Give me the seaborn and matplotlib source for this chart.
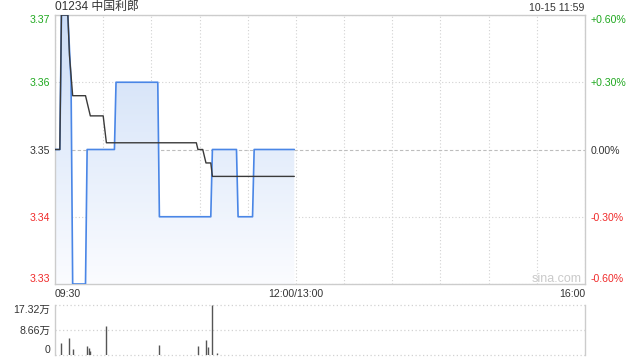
import numpy as np
import pandas as pd
import matplotlib
matplotlib.use("Agg")
import matplotlib.pyplot as plt
import seaborn as sns
from matplotlib.colors import LinearSegmentedColormap

# ---------------- data ----------------
title = "01234 中国利郎"
stamp = "10-15 11:59"

price_min = [0, 3, 4, 8, 10, 11, 19, 20, 37, 38, 64, 65, 97, 98, 113, 114, 123, 124, 149]
price_val = [3.35, 3.35, 3.37, 3.37, 3.36, 3.33, 3.33, 3.35, 3.35, 3.36, 3.36, 3.34,
             3.34, 3.35, 3.35, 3.34, 3.34, 3.35, 3.35]

avg_min = [0, 3, 4, 8, 9, 11, 19, 22, 30, 32, 88, 89, 92, 94, 97, 98, 149]
avg_val = [3.35, 3.35, 3.37, 3.37, 3.364, 3.358, 3.358, 3.355, 3.355, 3.351, 3.351,
           3.350, 3.350, 3.348, 3.348, 3.346, 3.346]

vol_min = [4, 9, 11, 20, 21, 22, 32, 65, 89, 94, 95, 98, 101]
vol_wan = [4.2, 5.9, 2.1, 3.2, 2.4, 1.5, 10.0, 3.5, 3.1, 5.2, 2.8, 17.32, 0.7]

price_ticks = [3.33, 3.34, 3.35, 3.36, 3.37]
price_labels = ["3.33", "3.34", "3.35", "3.36", "3.37"]
pct_labels = ["-0.60%", "-0.30%", "0.00%", "+0.30%", "+0.60%"]
vol_ticks = [0, 8.66, 17.32]
vol_labels = ["0", "8.66万", "17.32万"]
x_ticks = [0, 150, 330]
x_labels = ["09:30", "12:00/13:00", "16:00"]
grid_x = list(range(30, 330, 30))

price_df = pd.DataFrame({"minute": price_min, "price": price_val})
avg_df = pd.DataFrame({"minute": avg_min, "avg": avg_val})

# ---------------- style ----------------
sns.set_style("white")
plt.rcParams["font.family"] = ["Liberation Sans", "Noto Sans CJK SC", "DejaVu Sans"]
plt.rcParams["font.size"] = 7.6

GREEN = "#1fa81f"
RED = "#f02a2a"
DARK = "#333333"
FRAME = "#cccccc"
GRID = "#d2d2d2"
label_colors = [RED, RED, DARK, GREEN, GREEN]

fig = plt.figure(figsize=(6.4, 3.6), dpi=100)
ax = fig.add_axes([55 / 640, 1 - 284 / 360, 530 / 640, 269 / 360])
axv = fig.add_axes([55 / 640, 1 - 355 / 360, 530 / 640, 50 / 360])

# ---------------- main price pane ----------------
ax.set_xlim(0, 330)
ax.set_ylim(3.33, 3.37)

# gradient fill under the price line
poly = ax.fill_between(price_df["minute"], price_df["price"], 3.33, color="none", lw=0)
cmap = LinearSegmentedColormap.from_list("fill", ["#fbfcff", "#cddef7"])
grad = np.linspace(0, 1, 256).reshape(-1, 1)
im = ax.imshow(grad, extent=[0, 330, 3.33, 3.37], origin="lower", aspect="auto",
               cmap=cmap, zorder=1)
im.set_clip_path(poly.get_paths()[0], transform=ax.transData)

sns.lineplot(data=price_df, x="minute", y="price", ax=ax, color="#4a86e6",
             lw=1.2, zorder=3)
sns.lineplot(data=avg_df, x="minute", y="avg", ax=ax, color="#3a3a3a",
             lw=1.0, zorder=4)

ax.set_xlabel("")
ax.set_ylabel("")
ax.set_xticks(x_ticks)
ax.set_xticklabels(x_labels)
ax.set_xticks(grid_x, minor=True)
ax.set_yticks(price_ticks)
ax.set_yticklabels(price_labels)
ax.tick_params(axis="both", which="both", length=0)
ax.tick_params(axis="y", pad=3.2)
ax.tick_params(axis="x", pad=3.5, colors=DARK, labelcolor=DARK)

xl = ax.get_xticklabels()
xl[0].set_ha("left")
xl[2].set_ha("right")

for i, t in enumerate(ax.get_yticklabels()):
    t.set_color(label_colors[i])
ax.get_yticklabels()[0].set_va("bottom")
ax.get_yticklabels()[-1].set_va("top")

ax.grid(True, which="both", axis="x", color=GRID, ls=(0, (1, 2)), lw=0.8)
ax.grid(True, which="major", axis="y", color=GRID, ls=(0, (1, 2)), lw=0.8)
ax.yaxis.get_gridlines()[2].set_linestyle((0, (3, 2)))
ax.yaxis.get_gridlines()[2].set_color("#bdbdbd")
ax.set_axisbelow(True)
for s in ax.spines.values():
    s.set_color(FRAME)
    s.set_linewidth(1.0)
    s.set_visible(True)

# right percentage labels
axr = ax.twinx()
axr.set_ylim(ax.get_ylim())
axr.set_yticks(price_ticks)
axr.set_yticklabels(pct_labels)
axr.tick_params(axis="y", length=0, pad=3.8)
for i, t in enumerate(axr.get_yticklabels()):
    t.set_color(label_colors[i])
axr.get_yticklabels()[0].set_va("bottom")
axr.get_yticklabels()[-1].set_va("top")
for s in axr.spines.values():
    s.set_visible(False)
axr.grid(False)

ax.text(0.994, 0.019, "sina.com", transform=ax.transAxes, ha="right", va="center",
        fontsize=9, color="#cacaca", zorder=5)

fig.text(55 / 640, 1 - 7 / 360, title, ha="left", va="center", fontsize=8.6, color=DARK)
fig.text(584 / 640, 1 - 8 / 360, stamp, ha="right", va="center", fontsize=7.6, color=DARK)

# ---------------- volume pane ----------------
axv.set_xlim(0, 330)
axv.set_ylim(0, 17.32)
axv.vlines(vol_min, 0, vol_wan, colors="#555555", lw=1.0, zorder=3)
axv.set_xticks([])
axv.set_yticks(vol_ticks)
axv.set_yticklabels(vol_labels)
axv.tick_params(axis="y", length=0, pad=3.5, labelcolor=DARK)
axv.get_yticklabels()[0].set_va("bottom")
axv.get_yticklabels()[-1].set_va("top")
axv.grid(True, axis="y", color=GRID, ls=(0, (1, 2)), lw=0.9)
for g in axv.yaxis.get_gridlines():
    g.set_clip_on(False)
axv.spines["top"].set_visible(False)
axv.spines["bottom"].set_visible(False)
for side in ("left", "right"):
    axv.spines[side].set_color(FRAME)
    axv.spines[side].set_linewidth(1.0)

fig.savefig("out.png", dpi=100)
